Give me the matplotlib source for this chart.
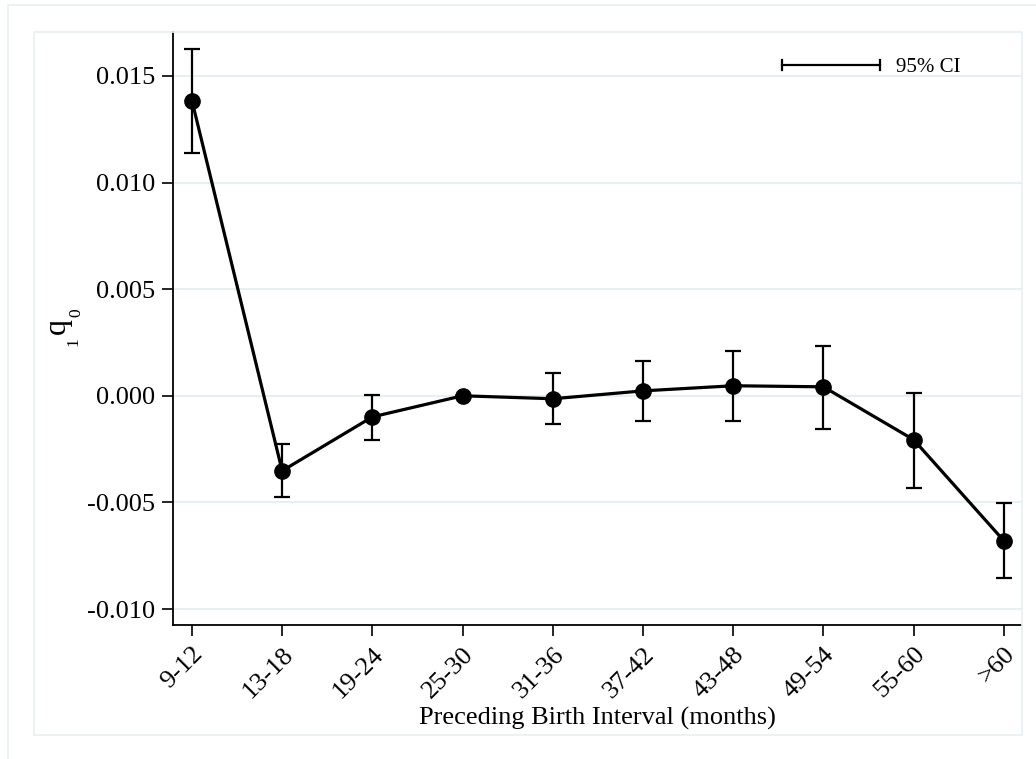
import matplotlib
matplotlib.use("Agg")
import matplotlib.pyplot as plt
from matplotlib.patches import Rectangle
import numpy as np

categories = ["9-12", "13-18", "19-24", "25-30", "31-36", "37-42", "43-48", "49-54", "55-60", ">60"]
estimate = [0.01384, -0.00352, -0.00099, 0.0, -0.00014, 0.00023, 0.00047, 0.00042, -0.00206, -0.00680]
ci_low = [0.01140, -0.00474, -0.00206, 0.0, -0.00131, -0.00117, -0.00117, -0.00155, -0.00431, -0.00854]
ci_high = [0.01628, -0.00225, 0.00005, 0.0, 0.00108, 0.00164, 0.00211, 0.00235, 0.00014, -0.00502]
yticks = [-0.010, -0.005, 0.000, 0.005, 0.010, 0.015]

plt.rcParams["font.family"] = ["Liberation Serif", "DejaVu Serif"]

W, H = 1036, 759
fig = plt.figure(figsize=(W / 100, H / 100), dpi=100)
frame_col = "#e9f0f2"
fig.add_artist(Rectangle((8 / W, -0.1), 1.2, (H - 5) / H + 0.1, transform=fig.transFigure,
                         fill=False, ec=frame_col, lw=1.2))
fig.add_artist(Rectangle((34 / W, (H - 735) / H), (1022 - 34) / W, (735 - 32) / H,
                         transform=fig.transFigure, fill=False, ec=frame_col, lw=1.2))

AX_L, AX_R, AX_T, AX_B = 173, 1021, 32, 625
ax = fig.add_axes([AX_L / W, (H - AX_B) / H, (AX_R - AX_L) / W, (AX_B - AX_T) / H])
x = np.arange(len(categories))
est = np.array(estimate)
lo = np.array(ci_low)
hi = np.array(ci_high)

for yt in yticks:
    ax.axhline(yt, color="#e6eff1", lw=1.5, zorder=0)

ax.errorbar(x, est, yerr=[est - lo, hi - est], fmt="none", ecolor="black",
            elinewidth=1.6, capsize=5.5, capthick=1.6, zorder=2)
ax.plot(x, est, color="black", lw=2.3, marker="o", markersize=11, zorder=3)

ax.set_xlim(-0.21, 9.19)
ax.set_ylim(-0.01075, 0.01706)
ax.set_yticks(yticks)
ax.set_yticklabels([f"{v:.3f}" for v in yticks])
ax.set_xticks(x)
ax.set_xticklabels(categories, rotation=45, ha="right", va="top", rotation_mode="anchor")
ax.tick_params(axis="both", direction="out", length=8, width=1.2, labelsize=19, color="black")
ax.tick_params(axis="y", pad=5)
ax.tick_params(axis="x", pad=5)
for s in ["top", "right"]:
    ax.spines[s].set_visible(False)
for s in ["left", "bottom"]:
    ax.spines[s].set_linewidth(1.3)

ax.set_xlabel("Preceding Birth Interval (months)", fontsize=19, labelpad=3)


def axpos(px, py):
    return (px - AX_L) / (AX_R - AX_L), (AX_B - py) / (AX_B - AX_T)


# y-axis label: pre-subscript 1, q, subscript 0
for txt, (px, py), fs in [("q", (65, 326), 23), ("0", (80, 313), 12.5), ("1", (77, 342), 12.5)]:
    ax.text(*axpos(px, py), txt, transform=ax.transAxes, fontsize=fs, rotation=90,
            rotation_mode="anchor", ha="center", va="baseline", clip_on=False)

# CI legend key
(lx0, ly), (lx1, _) = axpos(782, 65), axpos(880, 65)
ax.plot([lx0, lx1], [ly, ly], transform=ax.transAxes, color="black", lw=1.6, clip_on=False)
for xx in (lx0, lx1):
    ax.plot([xx, xx], [ly - 0.009, ly + 0.009], transform=ax.transAxes, color="black", lw=1.6, clip_on=False)
ax.text(axpos(896, 67.5)[0], axpos(896, 67.5)[1], "95% CI", transform=ax.transAxes, fontsize=15,
        ha="left", va="center")

fig.savefig("out.png", dpi=100)
